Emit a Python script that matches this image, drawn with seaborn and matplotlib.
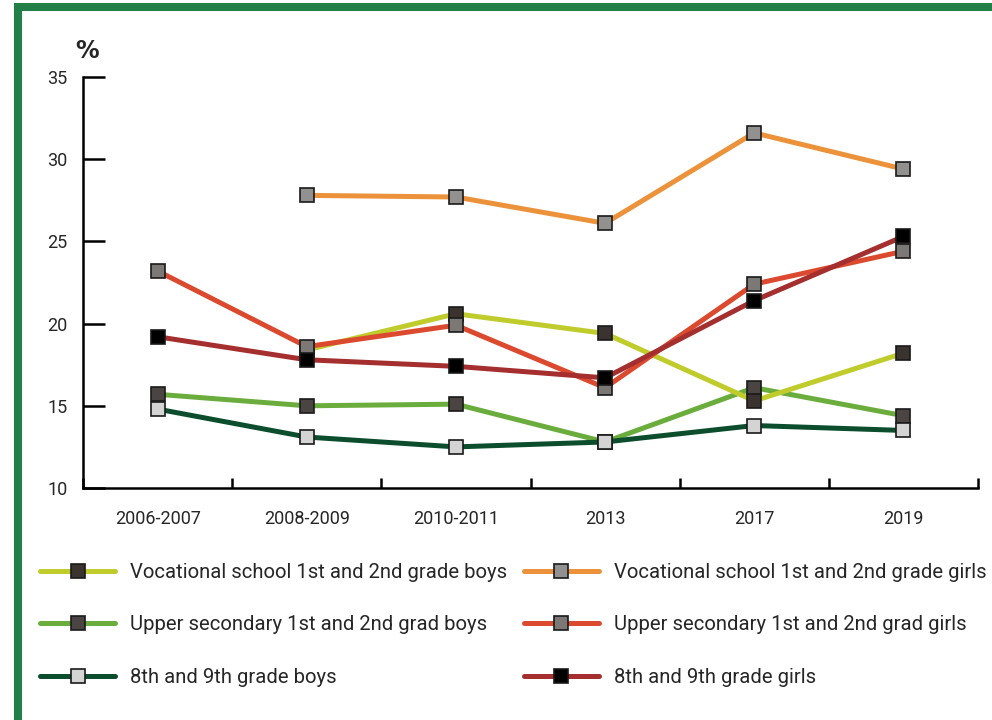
import matplotlib
matplotlib.use('Agg')
import matplotlib.pyplot as plt
import seaborn as sns
import numpy as np
from matplotlib.patches import Rectangle

# Data
periods = ['2006-2007', '2008-2009', '2010-2011', '2013', '2017', '2019']
voc_boys = [np.nan, 18.4, 20.6, 19.4, 15.3, 18.2]
voc_girls = [np.nan, 27.8, 27.7, 26.1, 31.6, 29.4]
upper_boys = [15.7, 15.0, 15.1, 12.8, 16.1, 14.4]
upper_girls = [23.2, 18.6, 19.9, 16.1, 22.4, 24.4]
grade89_boys = [14.8, 13.1, 12.5, 12.8, 13.8, 13.5]
grade89_girls = [19.2, 17.8, 17.4, 16.7, 21.4, 25.3]

series = [
    ('Vocational school 1st and 2nd grade boys', voc_boys, '#c0cc2c', '#3a332f'),
    ('Vocational school 1st and 2nd grade girls', voc_girls, '#ec923a', '#939090'),
    ('Upper secondary 1st and 2nd grad boys', upper_boys, '#6aad3d', '#4a4543'),
    ('Upper secondary 1st and 2nd grad girls', upper_girls, '#db4a2e', '#7b7876'),
    ('8th and 9th grade boys', grade89_boys, '#0b4d2c', '#d4d4d4'),
    ('8th and 9th grade girls', grade89_girls, '#a52e2e', '#000000'),
]
# drawing order (later on top)
draw_order = [1, 2, 0, 3, 4, 5]

sns.set_style('white')
plt.rcParams['font.family'] = ['Roboto', 'DejaVu Sans']

fig = plt.figure(figsize=(9.92, 7.2), dpi=100)
ax = fig.add_axes([83 / 992, 1 - 488 / 720, (978 - 83) / 992, (488 - 77) / 720])

x = np.arange(len(periods))
handles = {}
for i in draw_order:
    label, vals, lc, mc = series[i]
    sns.lineplot(x=x, y=vals, ax=ax, color=lc, linewidth=3.6, marker='s',
                 markersize=10, markerfacecolor=mc, markeredgecolor='#1a1a1a',
                 markeredgewidth=1.2, label=label, legend=False)
    handles[i] = ax.lines[-1]

ax.set_xlim(-0.5, 5.5)
ax.set_ylim(10, 35)
ax.set_yticks([10, 15, 20, 25, 30, 35])
ax.set_xticks(x)
ax.set_xticklabels(periods)
ax.set_xticks(np.arange(-0.5, 6, 1), minor=True)
ax.tick_params(axis='x', which='major', bottom=True, length=0, pad=16)
ax.tick_params(axis='x', which='minor', bottom=True, direction='in', length=7.5, width=1.8, color='black')
ax.tick_params(axis='y', left=True, direction='in', length=16, width=1.8, pad=11, color='black')
for lab in ax.get_xticklabels() + ax.get_yticklabels():
    lab.set_fontsize(13)
ax.set_xlabel('')
ax.set_ylabel('')
sns.despine(ax=ax)
for s in ['left', 'bottom']:
    ax.spines[s].set_linewidth(1.8)
    ax.spines[s].set_color('black')
ax.grid(False)

fig.text(87 / 992, 1 - 51 / 720, '%', fontsize=17, fontweight='bold', ha='center', va='center',
         family='DejaVu Sans')

leg_handles = [handles[i] for i in [0, 1, 2, 3, 4, 5]]
leg_labels = [series[i][0] for i in [0, 1, 2, 3, 4, 5]]
# two columns: boys left, girls right
order = [0, 2, 4, 1, 3, 5]
fig.legend([leg_handles[i] for i in order], [leg_labels[i] for i in order],
           ncol=2, loc='upper left', bbox_to_anchor=(40 / 992, 1 - 563 / 720),
           frameon=False, fontsize=14.6, handlelength=3.7, handletextpad=0.75,
           columnspacing=0.8, labelspacing=1.65, borderpad=0, borderaxespad=0,
           numpoints=1)

fig.patches.append(Rectangle((18 / 992, -0.0015), 1.5, 0.9918, transform=fig.transFigure,
                             fill=False, edgecolor='#217f47', linewidth=5.8))

fig.savefig('out.png', dpi=100)
